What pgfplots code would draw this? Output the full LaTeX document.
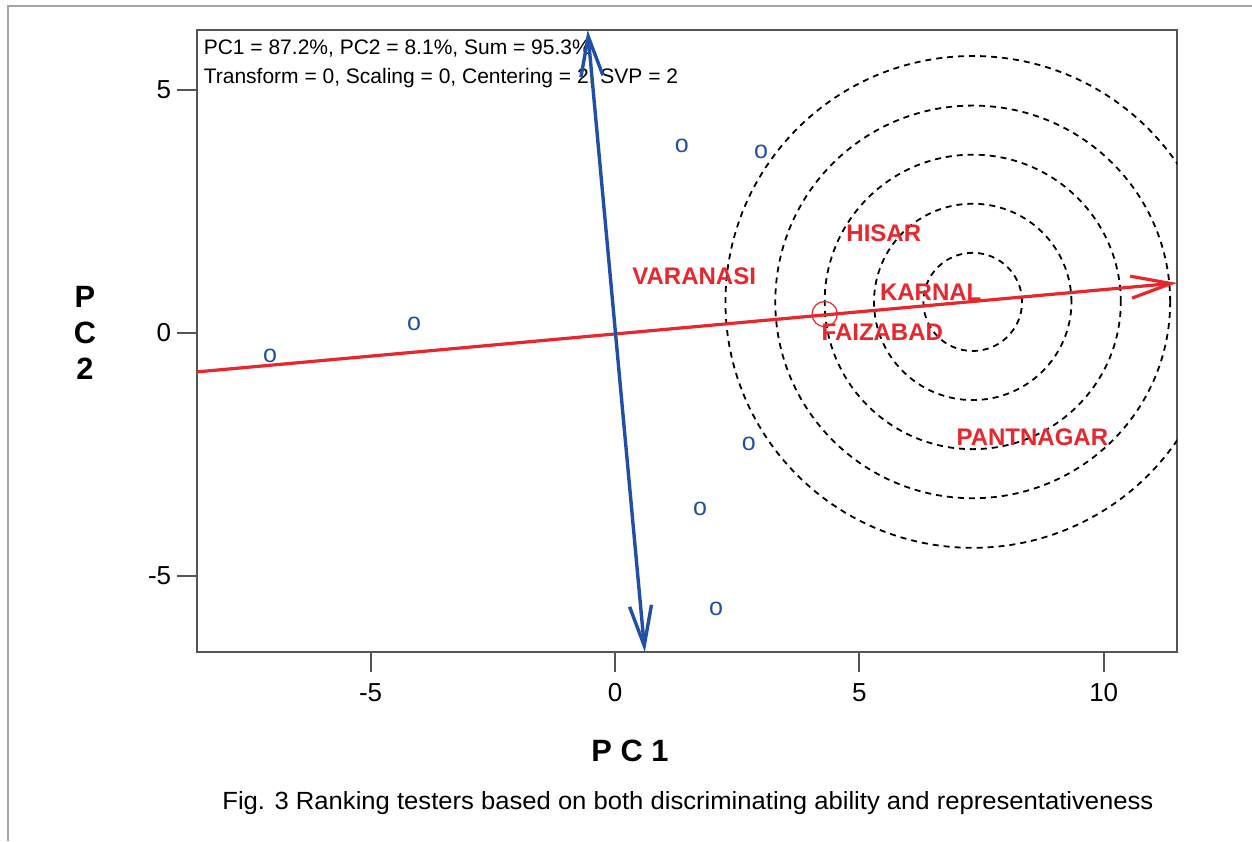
\documentclass[border=0pt]{standalone}
\usepackage{fontspec}
\setmainfont{Liberation Sans}
\usepackage{pgfplots}
\pgfplotsset{compat=1.18}
\usetikzlibrary{arrows.meta}
\definecolor{bred}{RGB}{232,38,44}
\definecolor{bblue}{RGB}{32,78,168}
\definecolor{frame}{RGB}{85,85,85}
\begin{document}
\begin{tikzpicture}
\useasboundingbox (0,0) rectangle (626pt,420.5pt);
\draw[black!35, line width=0.7pt] (4pt,0) -- (4pt,417.5pt) -- (626pt,417.5pt);
% header text (under the blue arrow)
\node[anchor=base west, inner sep=0pt, font=\fontsize{10.5}{12}\selectfont] at (101.7pt,393pt) {PC1 = 87.2\%, PC2 = 8.1\%, Sum = 95.3\%};
\node[anchor=base west, inner sep=0pt, font=\fontsize{10.5}{12}\selectfont] at (101.7pt,378.9pt) {Transform = 0, Scaling = 0, Centering = 2, SVP = 2};
\begin{axis}[
  at={(98.5pt,94.5pt)}, anchor=south west,
  scale only axis, width=490pt, height=311pt,
  xmin=-8.553, xmax=11.50, ymin=-6.564, ymax=6.235,
  axis line style={frame, line width=1pt},
  xtick={-5,0,5,10}, xticklabels={-5,0,5,10},
  ytick={-5,0,5}, yticklabels={-5,0,5},
  xtick pos=bottom, ytick pos=left,
  tick align=outside, major tick length=10pt,
  tick style={frame, line width=1pt},
  ticklabel style={font=\fontsize{13}{15}\selectfont},
  xticklabel style={yshift=-2.2pt},
  yticklabel style={xshift=0.6pt},
  /pgf/number format/assume math mode=true,
]
% concentric circles
\draw[black, line width=0.9pt, dash pattern=on 3pt off 2.5pt] (axis cs:7.32,0.64) circle [radius=1.01];
\draw[black, line width=0.9pt, dash pattern=on 3pt off 2.5pt] (axis cs:7.32,0.64) circle [radius=2.02];
\draw[black, line width=0.9pt, dash pattern=on 3pt off 2.5pt] (axis cs:7.32,0.64) circle [radius=3.03];
\draw[black, line width=0.9pt, dash pattern=on 3pt off 2.5pt] (axis cs:7.32,0.64) circle [radius=4.04];
\draw[black, line width=0.9pt, dash pattern=on 3pt off 2.5pt] (axis cs:7.32,0.64) circle [radius=5.06];
% genotype points
\addplot[only marks, color=bblue, mark=text, text mark={o}, text mark as node=true,
  text mark style={font=\fontsize{12.5}{12.5}\selectfont, text=bblue}] coordinates {
(-7.06,-0.47) (-4.11,0.19) (1.37,3.85) (2.99,3.72) (2.74,-2.28) (1.74,-3.62) (2.07,-5.68)
};
% average environment axis
\addplot[bred, line width=1.6pt, -{Straight Barb[length=20pt,width=11pt]}] coordinates {(-8.553,-0.80) (11.50,1.03)};
\addplot[only marks, mark=o, mark size=6.3pt, bred, mark options={line width=0.6pt}] coordinates {(4.29,0.39)};
% perpendicular axis
\addplot[bblue, line width=1.7pt, {Straight Barb[length=20pt,width=11pt]}-{Straight Barb[length=20pt,width=11pt]}] coordinates {(-0.56,6.235) (0.61,-6.564)};
% environment labels
\addplot[draw=none, nodes near coords, point meta=explicit symbolic,
  nodes near coords style={anchor=center, inner sep=0pt, text=bred, font=\bfseries\fontsize{12}{14}\selectfont}]
  table[meta=lab] {
x y lab
1.62 1.16 VARANASI
5.50 2.05 HISAR
6.46 0.84 KARNAL
5.47 0.01 FAIZABAD
8.54 -2.15 PANTNAGAR
};
\end{axis}
\node[anchor=base, inner sep=0pt, font=\bfseries\fontsize{15.4}{18}\selectfont] at (315pt,40pt) {P C 1};
\node[anchor=base, inner sep=0pt, font=\bfseries\fontsize{15.4}{18}\selectfont] at (42.5pt,266.5pt) {P};
\node[anchor=base, inner sep=0pt, font=\bfseries\fontsize{15.4}{18}\selectfont] at (42.5pt,248.5pt) {C};
\node[anchor=base, inner sep=0pt, font=\bfseries\fontsize{15.4}{18}\selectfont] at (42.5pt,230.5pt) {2};
\node[anchor=base west, inner sep=0pt] at (111pt,16pt) {\resizebox{465.5pt}{9pt}{\fontsize{12.5}{14}\selectfont Fig. 3 Ranking testers based on both discriminating ability and representativeness}};
\end{tikzpicture}
\end{document}
